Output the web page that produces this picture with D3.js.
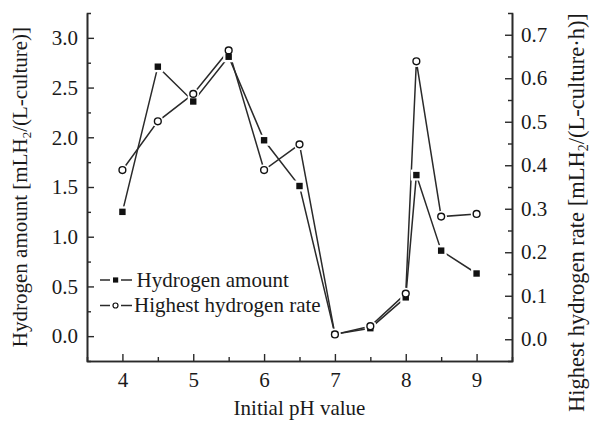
<!DOCTYPE html>
<html>
<head>
<meta charset="utf-8">
<script src="https://cdn.jsdelivr.net/npm/d3@7/dist/d3.min.js"></script>
<style>
  html, body { margin: 0; padding: 0; background: #fff; }
  svg { display: block; }
  text { font-family: "Liberation Serif", "Tinos", "Times New Roman", "DejaVu Serif", serif; fill: #1a1a1a; }
</style>
</head>
<body>
<svg id="chart" width="592" height="424"></svg>
<script>
// ---- data ----
const phValues = [4, 4.5, 5, 5.5, 6, 6.5, 7, 7.5, 8, 8.15, 8.5, 9];
const hydrogenAmount = [1.25, 2.71, 2.36, 2.81, 1.97, 1.51, 0.02, 0.08, 0.39, 1.62, 0.86, 0.63];
const highestRate = [0.389, 0.501, 0.564, 0.664, 0.389, 0.448, 0.011, 0.030, 0.105, 0.639, 0.282, 0.288];
const xTicks = [4, 5, 6, 7, 8, 9];
const leftTicks = [0, 0.5, 1.0, 1.5, 2.0, 2.5, 3.0];
const rightTicks = [0, 0.1, 0.2, 0.3, 0.4, 0.5, 0.6, 0.7];
const xMinorTicks = [4.5, 5.5, 6.5, 7.5, 8.5];
const leftMinorTicks = [0.25, 0.75, 1.25, 1.75, 2.25, 2.75];
const rightMinorTicks = [0.05, 0.15, 0.25, 0.35, 0.45, 0.55, 0.65];
const seriesNames = ["Hydrogen amount", "Highest hydrogen rate"];

// ---- layout ----
const svg = d3.select("#chart");
const L = 87, R = 512, T = 13, B = 361;
const ink = "#2a2a2a";

const x = d3.scaleLinear().domain([3.5, 9.5]).range([L, R]);
const yL = d3.scaleLinear().domain([-0.25, 3.25]).range([B, T]);
const yR = d3.scaleLinear().domain([-0.05, 0.75]).range([B, T]);

const fontTick = 21;

function styleAxis(g) {
  g.attr("font-family", null);
  g.selectAll("path.domain").attr("stroke", ink).attr("stroke-width", 1.6);
  g.selectAll(".tick line").attr("stroke", ink).attr("stroke-width", 1.4);
  g.selectAll(".tick text").attr("font-size", fontTick).attr("fill", "#1a1a1a");
}

// minor ticks
svg.append("g").attr("transform", `translate(0,${B})`)
  .call(d3.axisBottom(x).tickValues(xMinorTicks).tickSize(-4).tickFormat(""))
  .call(styleAxis);
svg.append("g").attr("transform", `translate(${L},0)`)
  .call(d3.axisLeft(yL).tickValues(leftMinorTicks).tickSize(-4).tickFormat(""))
  .call(styleAxis);
svg.append("g").attr("transform", `translate(${R},0)`)
  .call(d3.axisRight(yR).tickValues(rightMinorTicks).tickSize(-4).tickFormat(""))
  .call(styleAxis);

// major axes
svg.append("g").attr("transform", `translate(0,${B})`)
  .call(d3.axisBottom(x).tickValues(xTicks).tickSize(-7).tickSizeOuter(0).tickPadding(11).tickFormat(d3.format("d")))
  .call(styleAxis);
svg.append("g").attr("transform", `translate(${L},0)`)
  .call(d3.axisLeft(yL).tickValues(leftTicks).tickSize(-7).tickSizeOuter(0).tickPadding(9).tickFormat(d3.format(".1f")))
  .call(styleAxis);
svg.append("g").attr("transform", `translate(${R},0)`)
  .call(d3.axisRight(yR).tickValues(rightTicks).tickSize(-7).tickSizeOuter(0).tickPadding(9).tickFormat(d3.format(".1f")))
  .call(styleAxis);

// ---- series ----
const ptsA = phValues.map((p, i) => [x(p), yL(hydrogenAmount[i])]);
const ptsB = phValues.map((p, i) => [x(p), yR(highestRate[i])]);
const line = d3.line();

svg.append("path").attr("d", line(ptsA)).attr("fill", "none").attr("stroke", ink).attr("stroke-width", 1.5);
svg.append("path").attr("d", line(ptsB)).attr("fill", "none").attr("stroke", ink).attr("stroke-width", 1.5);

// halos (small gap between line and marker)
svg.append("g").selectAll("rect").data(ptsA).join("rect")
  .attr("x", d => d[0] - 5.5).attr("y", d => d[1] - 5.5).attr("width", 11).attr("height", 11).attr("fill", "#fff");
svg.append("g").selectAll("circle").data(ptsB).join("circle")
  .attr("cx", d => d[0]).attr("cy", d => d[1]).attr("r", 5.8).attr("fill", "#fff");

svg.append("g").selectAll("rect").data(ptsA).join("rect")
  .attr("x", d => d[0] - 3.2).attr("y", d => d[1] - 3.2).attr("width", 6.4).attr("height", 6.4).attr("fill", "#111");
svg.append("g").selectAll("circle").data(ptsB).join("circle")
  .attr("cx", d => d[0]).attr("cy", d => d[1]).attr("r", 3.4)
  .attr("fill", "#fff").attr("stroke", "#111").attr("stroke-width", 1.4);

// ---- legend ----
const lg = svg.append("g");
const legY = [280, 305.5];
seriesNames.forEach((name, i) => {
  const y = legY[i];
  lg.append("line").attr("x1", 100).attr("x2", 110).attr("y1", y).attr("y2", y).attr("stroke", ink).attr("stroke-width", 1.5);
  lg.append("line").attr("x1", 121).attr("x2", 132).attr("y1", y).attr("y2", y).attr("stroke", ink).attr("stroke-width", 1.5);
  if (i === 0) {
    lg.append("rect").attr("x", 113).attr("y", y - 2.6).attr("width", 5.2).attr("height", 5.2).attr("fill", "#111");
  } else {
    lg.append("circle").attr("cx", 115.5).attr("cy", y).attr("r", 2.5).attr("fill", "#fff").attr("stroke", "#111").attr("stroke-width", 1.2);
  }
  lg.append("text").attr("x", i === 0 ? 136.5 : 134).attr("y", y + 6.5).attr("font-size", 21).text(name);
});

// ---- axis titles ----
svg.append("text").attr("x", (L + R) / 2).attr("y", 415).attr("text-anchor", "middle").attr("font-size", 21)
  .text("Initial pH value");

const lt = svg.append("text").attr("transform", `translate(27,${(T + B) / 2}) rotate(-90)`)
  .attr("text-anchor", "middle").attr("font-size", 21);
lt.append("tspan").text("Hydrogen amount [mLH");
lt.append("tspan").attr("font-size", 13).attr("dy", 4).text("2");
lt.append("tspan").attr("dy", -4).text("/(L-culture)]");

const rt = svg.append("text").attr("transform", `translate(584,212.5) rotate(-90)`)
  .attr("text-anchor", "middle").attr("font-size", 22.5);
rt.append("tspan").text("Highest hydrogen rate [mLH");
rt.append("tspan").attr("font-size", 14).attr("dy", 4).text("2");
rt.append("tspan").attr("dy", -4).text("/(L-culture·h)]");
</script>
</body>
</html>
